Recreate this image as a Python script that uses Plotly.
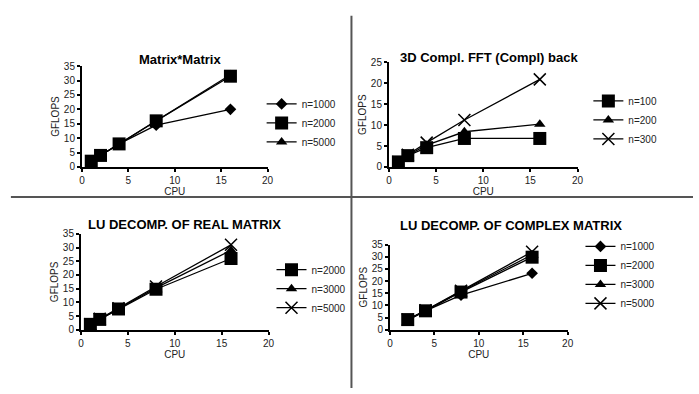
import plotly.graph_objects as go

# ---------------- data ----------------
cpu_mm = [1, 2, 4, 8, 16]
mm_n1000 = [2, 4, 8, 14.5, 20]
mm_n2000 = [2, 4, 8, 16, 31.5]
mm_n5000 = [2, 4, 8, 16, 32]

cpu_fft = [1, 2, 4, 8, 16]
fft_n100 = [1.2, 2.7, 4.6, 6.8, 6.8]
fft_n200 = [1.2, 2.8, 5.2, 8.4, 10.2]
fft_n300 = [1.2, 2.9, 5.8, 11.2, 20.9]

cpu_lur = [1, 2, 4, 8, 16]
lur_n2000 = [2, 3.8, 7.6, 14.8, 26]
lur_n3000 = [2, 3.9, 7.8, 15.3, 29]
lur_n5000 = [2, 4, 7.9, 15.8, 31]

cpu_luc = [2, 4, 8, 16]
luc_n1000 = [4, 7.8, 14.2, 23.2]
luc_n2000 = [4.2, 7.8, 15.5, 29.8]
luc_n3000 = [4.2, 7.9, 15.8, 30.8]
luc_n5000 = [4.2, 8, 16, 32]

titles = ["Matrix*Matrix", "3D Compl. FFT (Compl) back",
          "LU DECOMP. OF REAL MATRIX", "LU DECOMP. OF COMPLEX MATRIX"]

W, H = 699, 394
FONT = "Liberation Sans, Arial, sans-serif"

def px_x(p):
    return p / W

def px_y(p):
    return 1 - p / H

MARK = {
    "diamond": dict(symbol="diamond", size=9),
    "square": dict(symbol="square", size=13),
    "triangle": dict(symbol="triangle-up", size=10),
    "x": dict(symbol="x-thin", size=12, line=dict(width=1.5, color="black")),
}

fig = go.Figure()

panels = [
    ("x", "y", "legend", cpu_mm,
     [("n=1000", mm_n1000, "diamond"), ("n=2000", mm_n2000, "square"), ("n=5000", mm_n5000, "triangle")]),
    ("x2", "y2", "legend2", cpu_fft,
     [("n=100", fft_n100, "square"), ("n=200", fft_n200, "triangle"), ("n=300", fft_n300, "x")]),
    ("x3", "y3", "legend3", cpu_lur,
     [("n=2000", lur_n2000, "square"), ("n=3000", lur_n3000, "triangle"), ("n=5000", lur_n5000, "x")]),
    ("x4", "y4", "legend4", cpu_luc,
     [("n=1000", luc_n1000, "diamond"), ("n=2000", luc_n2000, "square"),
      ("n=3000", luc_n3000, "triangle"), ("n=5000", luc_n5000, "x")]),
]

for pi, (xa, ya, lg, xs, series) in enumerate(panels):
    for si, (name, ys, m) in enumerate(series):
        mk = dict(color="black", **MARK[m])
        fig.add_trace(go.Scatter(
            x=xs, y=ys, name=name, mode="lines+markers",
            line=dict(color="black", width=1.3),
            marker=mk, xaxis=xa, yaxis=ya, legend=lg,
            legendgroup=f"p{pi}s{si}", cliponaxis=False,
        ))

geo = [
    (80, 268, 62, 166, 35),
    (391, 582, 58, 166, 25),
    (79, 269, 235, 334, 35),
    (392, 572, 246, 334, 35),
]

axis_common = dict(
    showgrid=False, zeroline=False, showline=True, linecolor="black", linewidth=2,
    ticks="outside", ticklen=3, tickwidth=1.5, tickcolor="black",
    tickfont=dict(family=FONT, size=10, color="#222"),
)

for i, (x0, x1, yt, yb, ymax) in enumerate(geo):
    sfx = "" if i == 0 else str(i + 1)
    fig.update_layout(**{
        f"xaxis{sfx}": dict(domain=[px_x(x0), px_x(x1)], range=[0, 20], dtick=5,
                            anchor=f"y{sfx}", **axis_common,
                            title=dict(text="CPU", font=dict(family=FONT, size=10, color="#222"), standoff=0)),
        f"yaxis{sfx}": dict(domain=[px_y(yb), px_y(yt)], range=[0, ymax], dtick=5,
                            anchor=f"x{sfx}", **axis_common,
                            title=dict(text="GFLOPS", font=dict(family=FONT, size=10, color="#222"), standoff=2)),
    })

title_pos = [(179, 55), (492, 53), (184, 225), (515, 226)]
for t, (cx, cy) in zip(titles, title_pos):
    fig.add_annotation(text=f"<b>{t}</b>", x=px_x(cx), y=px_y(cy), xref="paper", yref="paper",
                       showarrow=False, xanchor="center", yanchor="middle",
                       font=dict(family=FONT, size=13, color="black"))

leg_common = dict(font=dict(family=FONT, size=10, color="#222"), bgcolor="rgba(0,0,0,0)",
                  xanchor="left", yanchor="top", traceorder="normal", itemclick=False)
fig.update_layout(
    legend=dict(x=px_x(262), y=px_y(86), tracegroupgap=3, **leg_common),
    legend2=dict(x=px_x(593), y=px_y(83), tracegroupgap=0, **leg_common),
    legend3=dict(x=px_x(272), y=px_y(257), tracegroupgap=0, **leg_common),
    legend4=dict(x=px_x(585), y=px_y(233), tracegroupgap=0, **leg_common),
)

fig.add_shape(type="line", xref="paper", yref="paper", x0=px_x(8), x1=1, y0=px_y(197), y1=px_y(197),
              line=dict(color="#555", width=2))
fig.add_shape(type="line", xref="paper", yref="paper", x0=px_x(353), x1=px_x(353), y0=0, y1=px_y(10),
              line=dict(color="#555", width=2))

fig.update_layout(
    width=W, height=H, margin=dict(l=0, r=0, t=0, b=0),
    paper_bgcolor="white", plot_bgcolor="white", showlegend=True,
    font=dict(family=FONT),
)

fig.write_html("out.html")
